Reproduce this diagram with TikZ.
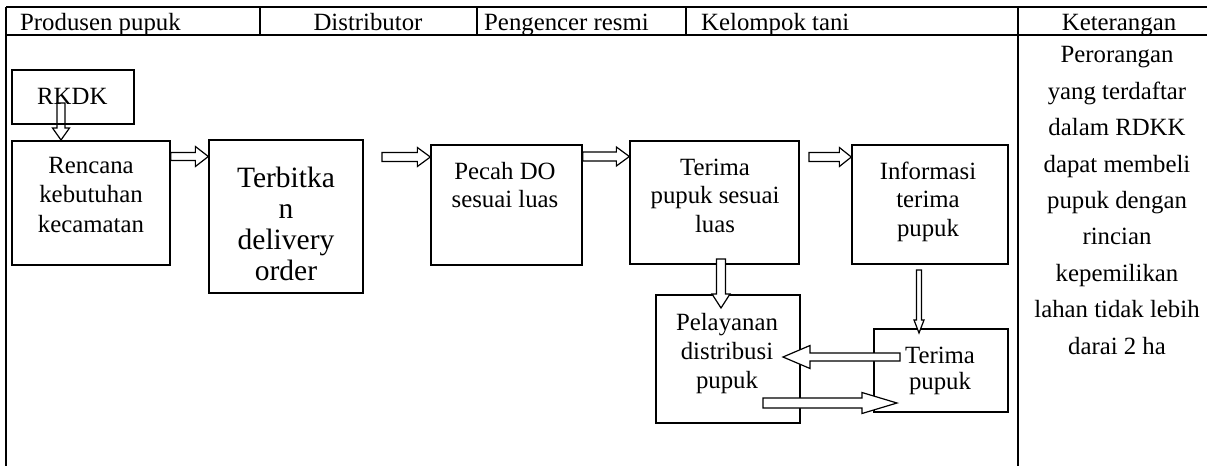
\documentclass[tikz,border=0pt]{standalone}
\usepackage{fontspec}
\setmainfont{Liberation Serif}
\usetikzlibrary{calc}
\tikzset{
  tline/.style={line width=1.6pt},
  box/.style={draw, line width=1.3pt, rectangle, inner sep=0pt},
  txt/.style={inner sep=0pt, align=center, font=\fontsize{24.8}{28.5}\selectfont},
  bigtxt/.style={inner sep=0pt, align=center, font=\fontsize{29.5}{31}\selectfont},
  barrow/.style n args={3}{fill=white, draw, line width=1.2pt, line join=miter,
    to path={let \p1=(\tikztostart), \p2=(\tikztotarget),
      \n1={atan2(\y2-\y1,\x2-\x1)}, \n2={veclen(\x2-\x1,\y2-\y1)} in
      {[shift={(\p1)}, rotate=\n1]
        (0pt,-#1pt) -- ({\n2-#3pt},-#1pt) -- ({\n2-#3pt},-#2pt) -- ({\n2},0pt)
        -- ({\n2-#3pt},#2pt) -- ({\n2-#3pt},#1pt) -- (0pt,#1pt) -- cycle}}}
}
\begin{document}
\begin{tikzpicture}[x=1pt,y=-1pt]
\useasboundingbox (0,0) rectangle (1207,466);
% table
\draw[tline] (6,7) -- (1207,7);
\draw[tline] (6,35) -- (1207,35);
\draw[tline] (6,7) -- (6,466);
\draw[tline] (260,7) -- (260,35);
\draw[tline] (477,7) -- (477,35);
\draw[tline] (686,7) -- (686,35);
\draw[tline] (1018,7) -- (1018,466);
% header texts
\node[txt, anchor=base west] (h1) at (20,30) {Produsen pupuk};
\node[txt, anchor=base] (h2) at (368,30) {Distributor};
\node[txt, anchor=base west] (h3) at (484,30) {Pengencer resmi};
\node[txt, anchor=base west] (h4) at (701,30) {Kelompok tani};
\node[txt, anchor=base] (h5) at (1119,30) {Keterangan};
% boxes
\node[box, minimum width=122pt, minimum height=54pt] (rkdk) at (73,97) {};
\node[box, minimum width=158pt, minimum height=124pt] (rencana) at (91,203) {};
\node[box, minimum width=154pt, minimum height=153pt] (terbit) at (286,216.5) {};
\node[box, minimum width=151pt, minimum height=120pt] (pecah) at (506.5,205) {};
\node[box, minimum width=169pt, minimum height=123pt] (terimaL) at (714.5,202.5) {};
\node[box, minimum width=156pt, minimum height=119pt] (info) at (930,204.5) {};
\node[box, minimum width=144pt, minimum height=128pt] (layan) at (728,359) {};
\node[box, minimum width=134pt, minimum height=83pt] (terimaP) at (941,370.5) {};
% arrow end points
\coordinate (a1s) at (61,103);
\coordinate (a1e) at (61,140);
\coordinate (a3s) at (382,157);
\coordinate (a5s) at (809,157);
\coordinate (a6s) at (721,259);
\coordinate (a6e) at (721,308);
\coordinate (a7s) at (919,270);
\coordinate (a7e) at (919,333);
\coordinate (a8s) at (900,357);
\coordinate (a8e) at (783,357);
\coordinate (a9s) at (763,403);
\coordinate (a9e) at (897,403);
\coordinate (row) at (0,156.5);
% arrows
\draw[barrow={4}{8.5}{12}, fill=none] (a1s) to (a1e);
\draw[barrow={4}{10}{13}] (rencana.east |- row) to (terbit.west |- row);
\draw[barrow={4.5}{9.5}{13}] (a3s) to (pecah.west |- a3s);
\draw[barrow={4.5}{9.5}{13}] (pecah.east |- row) to (terimaL.west |- row);
\draw[barrow={4.5}{9.5}{12}] (a5s) to (info.west |- a5s);
\draw[barrow={4.5}{9}{14}] (a6s) to (a6e);
\draw[barrow={2.5}{5}{13}] (a7s) to (a7e);
\draw[barrow={4}{11.5}{27}] (a8s) to (a8e);
\draw[barrow={5}{10.5}{35}] (a9s) to (a9e);
% box texts (base anchor = last line baseline)
\node[txt, anchor=base west] (t1) at (37,104) {RKDK};
\node[txt, anchor=base, font=\fontsize{24.8}{29.5}\selectfont] (t2) at (91,232) {Rencana\\kebutuhan\\kecamatan};
\node[bigtxt, anchor=base] (t3) at (286,280) {Terbitka\\n\\delivery\\order};
\node[txt, anchor=base, font=\fontsize{24.8}{28}\selectfont] (t4) at (505,207) {Pecah DO\\sesuai luas};
\node[txt, anchor=base] (t5) at (715,232) {Terima\\pupuk sesuai\\luas};
\node[txt, anchor=base] (t6) at (928,236) {Informasi\\terima\\pupuk};
\node[txt, anchor=base, font=\fontsize{24.8}{29}\selectfont] (t7) at (727,388) {Pelayanan\\distribusi\\pupuk};
\node[txt, anchor=base, font=\fontsize{24.8}{26.5}\selectfont] (t8) at (940,389.5) {Terima\\pupuk};
% keterangan
\node[txt, anchor=base, font=\fontsize{24.8}{36.4}\selectfont] (ket) at (1117,354)
  {Perorangan\\yang terdaftar\\dalam RDKK\\dapat membeli\\pupuk dengan\\rincian\\kepemilikan\\lahan tidak lebih\\darai 2 ha};
\end{tikzpicture}
\end{document}
